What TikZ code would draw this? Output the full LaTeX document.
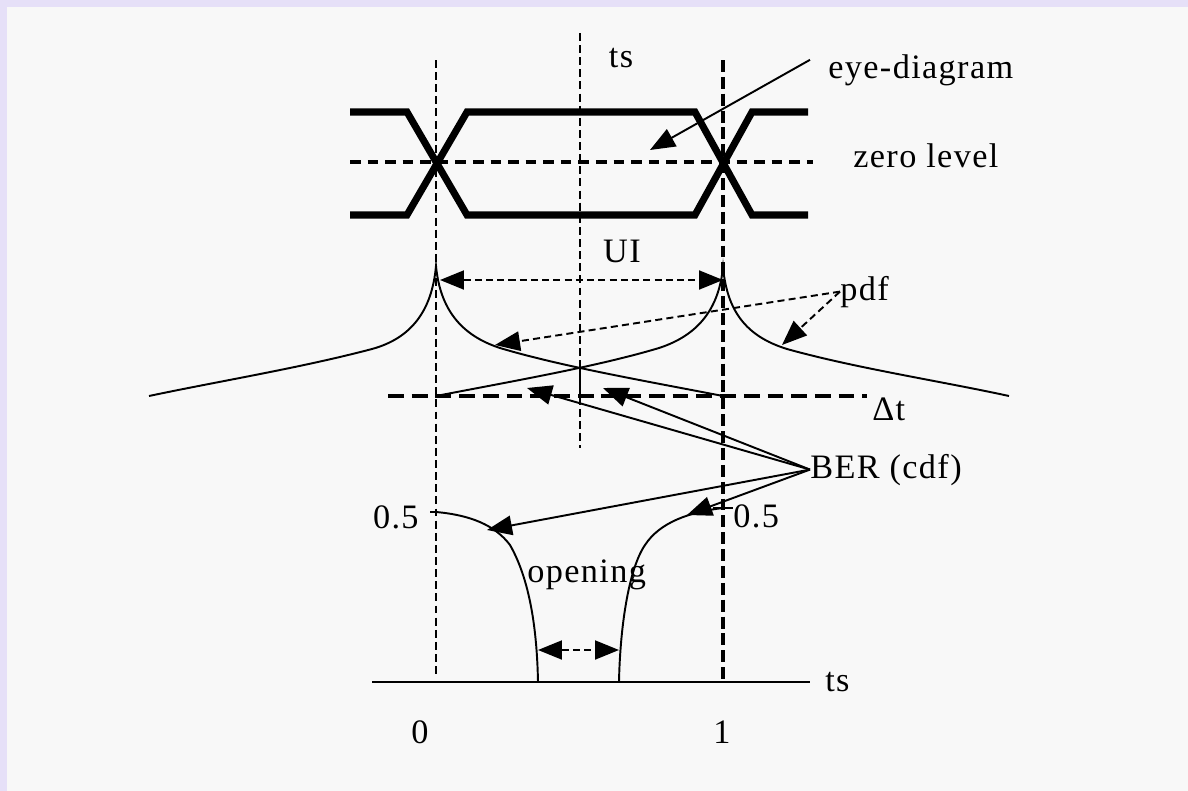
\documentclass[tikz,border=0pt]{standalone}
\usepackage{fontspec}
\setmainfont{Liberation Serif}[LetterSpace=4]
\usetikzlibrary{arrows.meta,calc}
\definecolor{lav}{HTML}{E6E0F8}
\definecolor{paper}{HTML}{F8F8F8}
\tikzset{
  lb/.style={font=\fontsize{19.5pt}{23pt}\selectfont,inner sep=0pt},
  eyel/.style={line width=4pt,line join=miter},
  crv/.style={line width=1.1pt},
  vd/.style={line width=1.1pt,dash pattern=on 4.5pt off 2.4pt},
  vdb/.style={line width=2pt,dash pattern=on 6.8pt off 2.8pt},
  hd/.style={line width=2pt,dash pattern=on 6pt off 4pt},
  hdb/.style={line width=2.3pt,dash pattern=on 9pt off 4.5pt},
  ptr/.style={-{Triangle[length=5mm,width=3.9mm]},line width=1.1pt},
  ptrd/.style={ptr,dash pattern=on 4pt off 2.4pt},
  dimarr/.style={{Triangle[length=4.8mm,width=3.8mm]}-{Triangle[length=4.8mm,width=3.8mm]},
    line width=1.1pt,dash pattern=on 4pt off 2.4pt},
}
\begin{document}
\begin{tikzpicture}[x=0.02cm,y=-0.02cm]
\fill[lav] (0,0) rectangle (1188,791);
\fill[paper] (7,7) rectangle (1188,791);
% guide lines
\draw[vd]  (436,60) -- (436,677);
\draw[vd]  (580,33) -- (580,448);
\draw[vdb] (723,60) -- (723,682);
\draw[hd]  (350,162) -- (813,162);
\draw[hdb] (388,396) -- (867,396);
% eye
\draw[eyel] (350,112) -- (407,112) -- (467,215) -- (695,215) -- (752,112) -- (808,112);
\draw[eyel] (350,215) -- (407,215) -- (467,112) -- (695,112) -- (752,215) -- (808,215);
% pdf
\coordinate (pkl) at (436,266); \coordinate (pkr) at (723,267);
\coordinate (cross) at (580,367); \coordinate (crossb) at (580,403);
\draw[crv] (149,396) .. controls (220,381) and (300,368) .. (372,349)
  .. controls (412,338) and (432,310) .. (pkl)
  .. controls (440,308) and (460,335) .. (500,348)
  .. controls (560,366) and (640,380) .. (723,396);
\draw[crv] (436,396) .. controls (519,380) and (599,366) .. (659,348)
  .. controls (699,335) and (719,308) .. (pkr)
  .. controls (727,310) and (745,336) .. (787,349)
  .. controls (855,368) and (940,381) .. (1009,396);
\draw[crv] (cross) -- (crossb);
% cdf
\draw[crv] (430,512) -- (436,512) .. controls (470,515) and (495,525) .. (510,545)
  .. controls (530,580) and (537,630) .. (538,682);
\draw[crv] (619,682) .. controls (620,630) and (628,570) .. (645,545)
  .. controls (660,522) and (690,512) .. (723,508);
\draw[crv] (713,508) -- (733,508);
\draw[crv] (372,682) -- (810,682);
% labels
\node[lb,anchor=base] (tst) at (621,68) {ts};
\node[lb,anchor=base west] (eyl) at (828,78) {eye-diagram};
\node[lb,anchor=base west] (zer) at (853,167) {zero level};
\node[lb,anchor=base] (ui) at (622,262) {UI};
\node[lb,anchor=base west] (pdf) at (840,300) {pdf};
\node[lb,anchor=base west] (dt) at (872,420) {Δt};
\node[lb,anchor=base west] (ber) at (810,478) {BER (cdf)};
\node[lb,anchor=base east] (hl) at (419,528) {0.5};
\node[lb,anchor=base west] (hr) at (733,527) {0.5};
\node[lb,anchor=base west] (opn) at (527,582) {opening};
\node[lb,anchor=base west] (tsa) at (825,691) {ts};
\node[lb,anchor=base] (zro) at (420,743) {0};
\node[lb,anchor=base] (one) at (722,743) {1};
% pointers
\coordinate (eyet) at (650,150);
\draw[ptr] ($(eyl.west)+(-18,-10)$) -- (eyet);
\coordinate (uil) at (440,280); \coordinate (uir) at (723,280);
\draw[dimarr] (uil) -- (uir);
\coordinate (opl) at (538,650); \coordinate (opr) at (619,650);
\draw[dimarr] (opl) -- (opr);
\coordinate (pdfa) at (495,345); \coordinate (pdfb) at (782,345);
\draw[ptrd] (pdf.west) -- (pdfa);
\draw[ptrd] (pdf.west) -- (pdfb);
\coordinate (bera) at (527,388); \coordinate (berb) at (603,388);
\coordinate (berc) at (487,530); \coordinate (berd) at (687,515);
\foreach \t in {bera,berb,berc,berd} \draw[ptr] (ber.west) -- (\t);
\end{tikzpicture}
\end{document}
